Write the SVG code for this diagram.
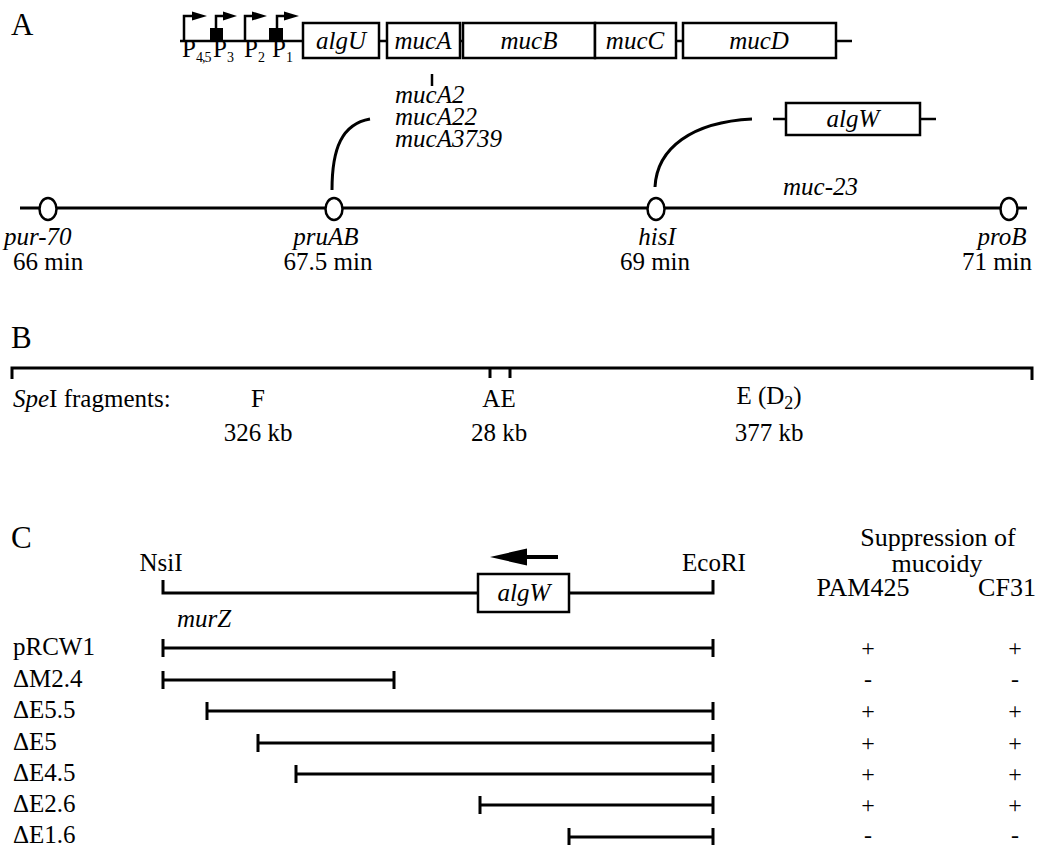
<svg xmlns="http://www.w3.org/2000/svg" width="1046" height="845" viewBox="0 0 1046 845">
<style>
text{font-family:"Liberation Serif","Times New Roman",serif;font-size:25px;fill:#000}
.it{font-style:italic}
.big{font-size:31px}
.mid{text-anchor:middle}
.hd{font-size:26px}
.ln{stroke:#000;stroke-width:3;fill:none}
.bx{stroke:#000;stroke-width:2.5;fill:#fff}
.pr{stroke:#000;stroke-width:2.5;fill:none}
.loc{stroke:#000;stroke-width:2.5;fill:#fff}
.sm{font-size:14px}
.pm{font-size:24px;text-anchor:middle}
</style>
<rect width="1046" height="845" fill="#fff"/>

<!-- Panel A -->
<text class="big" x="11" y="35">A</text>
<g id="operon">
  <line class="pr" x1="180" y1="41" x2="303" y2="41"/>
  <path class="pr" d="M184,41 V16 H194"/>
  <polygon points="192,11.5 207,16 192,20.5"/>
  <rect x="210" y="28" width="13" height="13"/>
  <path class="pr" d="M216,28 V16 H224"/>
  <polygon points="223,11.5 237,16 223,20.5"/>
  <path class="pr" d="M245,41 V16 H253"/>
  <polygon points="252,11.5 267,16 252,20.5"/>
  <rect x="269" y="28" width="14" height="13"/>
  <path class="pr" d="M277,28 V16 H285"/>
  <polygon points="284,11.5 299,16 284,20.5"/>
  <text x="182" y="57" font-size="20">P<tspan class="sm" dy="5" letter-spacing="-1">4,5</tspan></text>
  <text x="213" y="57" font-size="20">P<tspan class="sm" dy="5">3</tspan></text>
  <text x="244" y="57" font-size="20">P<tspan class="sm" dy="5">2</tspan></text>
  <text x="272" y="57" font-size="20">P<tspan class="sm" dy="5">1</tspan></text>
  <line class="pr" x1="379" y1="41" x2="387" y2="41"/>
  <line class="pr" x1="460" y1="41" x2="463" y2="41"/>
  <line class="pr" x1="676" y1="41" x2="683" y2="41"/>
  <line class="pr" x1="836" y1="41" x2="852" y2="41"/>
  <rect class="bx" x="303" y="23" width="76" height="35"/>
  <rect class="bx" x="387" y="23" width="73" height="35"/>
  <rect class="bx" x="463" y="23" width="132" height="35"/>
  <rect class="bx" x="595" y="23" width="81" height="35"/>
  <rect class="bx" x="683" y="23" width="153" height="35"/>
  <text class="it mid" x="341" y="49">algU</text>
  <text class="it mid" x="423" y="49">mucA</text>
  <text class="it mid" x="529" y="49">mucB</text>
  <text class="it mid" x="635" y="49">mucC</text>
  <text class="it mid" x="759" y="49">mucD</text>
</g>
<g id="mucA-alleles">
  <line class="pr" x1="432" y1="74" x2="432" y2="86"/>
  <text class="it" x="395" y="103" font-size="24">mucA2</text>
  <text class="it" x="395" y="125" font-size="24">mucA22</text>
  <text class="it" x="395" y="147" font-size="24">mucA3739</text>
</g>
<g id="algW-gene">
  <line class="pr" x1="773" y1="119" x2="786" y2="119"/>
  <line class="pr" x1="920" y1="119" x2="936" y2="119"/>
  <rect class="bx" x="786" y="103" width="134" height="32"/>
  <text class="it mid" x="853" y="127">algW</text>
</g>
<g id="connectors">
  <path class="ln" d="M332,190 C332,148 342,124 370,119"/>
  <path class="ln" d="M655,187 C657,148 692,122 752,119"/>
</g>
<g id="chromosome">
  <line class="ln" x1="20" y1="208" x2="1027" y2="208"/>
  <ellipse class="loc" cx="48" cy="209" rx="8.5" ry="11"/>
  <ellipse class="loc" cx="334" cy="209" rx="8.5" ry="11"/>
  <ellipse class="loc" cx="656" cy="209" rx="8.5" ry="11"/>
  <ellipse class="loc" cx="1009" cy="209" rx="8.5" ry="11"/>
  <text class="it" x="783" y="195">muc-23</text>
  <text class="it" x="4" y="245">pur-70</text>
  <text x="13" y="270">66 min</text>
  <text class="it mid" x="326" y="245">pruAB</text>
  <text class="mid" x="328" y="270">67.5 min</text>
  <text class="it mid" x="657" y="245">hisI</text>
  <text class="mid" x="655" y="270">69 min</text>
  <text class="it mid" x="1002" y="245">proB</text>
  <text class="mid" x="997" y="270">71 min</text>
</g>

<!-- Panel B -->
<text class="big" x="11" y="348">B</text>
<g id="spe-map">
  <path class="ln" d="M12,379 V368 H1032 V380"/>
  <line class="ln" x1="490" y1="368" x2="490" y2="378"/>
  <line class="ln" x1="510" y1="368" x2="510" y2="378"/>
  <text x="13" y="407"><tspan class="it">Spe</tspan>I fragments:</text>
  <text class="mid" x="258" y="407">F</text>
  <text class="mid" x="499" y="407">AE</text>
  <text class="mid" x="769" y="404">E (D<tspan font-size="18" dy="5">2</tspan><tspan dy="-5">)</tspan></text>
  <text class="mid" x="258" y="441">326 kb</text>
  <text class="mid" x="499" y="441">28 kb</text>
  <text class="mid" x="769" y="441">377 kb</text>
</g>

<!-- Panel C -->
<text class="big" x="11" y="548">C</text>
<g id="header">
  <text class="mid hd" x="938" y="546">Suppression of</text>
  <text class="mid hd" x="937" y="572">mucoidy</text>
  <text class="mid hd" x="863" y="596">PAM425</text>
  <text class="mid hd" x="1007" y="596">CF31</text>
</g>
<g id="algW-region">
  <text class="mid" x="161" y="571">NsiI</text>
  <text class="mid" x="714" y="571">EcoRI</text>
  <polygon points="490,557 527,548.5 527,565.5"/>
  <line x1="525" y1="557" x2="558" y2="557" stroke="#000" stroke-width="4"/>
  <path class="ln" d="M163,580 V593 H478"/>
  <path class="ln" d="M569,593 H713 V580"/>
  <rect class="bx" x="478" y="574" width="91" height="38"/>
  <text class="it mid" x="524" y="601">algW</text>
  <text class="it" x="177" y="627">murZ</text>
</g>
<g id="constructs">
  <text x="13" y="655">pRCW1</text>
  <path class="ln" d="M163,639 V657 M163,648 H713 M713,639 V657"/>
  <text class="pm" x="868" y="656">+</text><text class="pm" x="1015" y="656">+</text>

  <text x="13" y="687">ΔM2.4</text>
  <path class="ln" d="M163,671 V689 M163,680 H394 M394,671 V689"/>
  <text class="pm" x="868" y="687">-</text><text class="pm" x="1015" y="687">-</text>

  <text x="13" y="718">ΔE5.5</text>
  <path class="ln" d="M207,702 V720 M207,711 H713 M713,702 V720"/>
  <text class="pm" x="868" y="719">+</text><text class="pm" x="1015" y="719">+</text>

  <text x="13" y="750">ΔE5</text>
  <path class="ln" d="M258,734 V752 M258,743 H713 M713,734 V752"/>
  <text class="pm" x="868" y="751">+</text><text class="pm" x="1015" y="751">+</text>

  <text x="13" y="781">ΔE4.5</text>
  <path class="ln" d="M296,765 V783 M296,774 H713 M713,765 V783"/>
  <text class="pm" x="868" y="782">+</text><text class="pm" x="1015" y="782">+</text>

  <text x="13" y="812">ΔE2.6</text>
  <path class="ln" d="M480,796 V814 M480,805 H713 M713,796 V814"/>
  <text class="pm" x="868" y="813">+</text><text class="pm" x="1015" y="813">+</text>

  <text x="13" y="843">ΔE1.6</text>
  <path class="ln" d="M569,828 V846 M569,837 H713 M713,828 V846"/>
  <text class="pm" x="868" y="843">-</text><text class="pm" x="1015" y="843">-</text>
</g>
</svg>
